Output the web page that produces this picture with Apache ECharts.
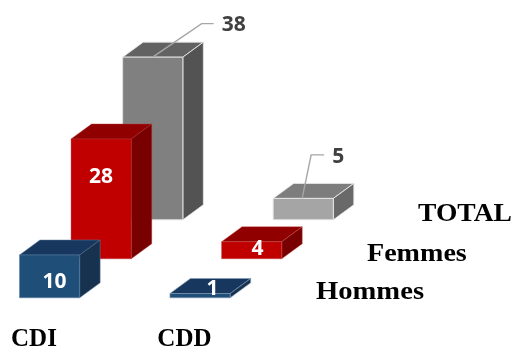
<!DOCTYPE html>
<html>
<head>
<meta charset="utf-8">
<style>html,body{margin:0;padding:0;background:#fff}#c{width:513px;height:349px}</style>
<script src="https://cdn.jsdelivr.net/npm/echarts@6/dist/echarts.min.js"></script>
</head>
<body>
<div id="c"></div>
<script>
const categories = ['CDI', 'CDD'];
const depthNames = ['Hommes', 'Femmes', 'TOTAL'];
const hommes = [10, 1];
const femmes = [28, 4];
const total = [38, 5];

const chart = echarts.init(document.getElementById('c'), null, {renderer: 'canvas'});

const DEPTH = {dx: 51.6, dy: -39};   // shift between rows
const SIDE = {dx: 20.5, dy: -15};    // 3D extrusion
const FRONT_SHIFT = 15.6;            // bar centre relative to the category label
const looks = [
  [{front: '#1f4e79', top: '#17375e', side: '#17324f', edge: '#5f83a6', lw: 0.5}, {front: '#1f4e79', top: '#17375e', side: '#17324f', edge: '#7f9ab5', lw: 0.6}],
  [{front: '#c00000', top: '#900000', side: '#780000', edge: '#b84040', lw: 0.4}, {front: '#c00000', top: '#900000', side: '#780000', edge: '#c85050', lw: 0.4}],
  [{front: '#808080', top: '#626262', side: '#535353', edge: '#e4e4e4', lw: 0.9}, {front: '#a5a5a5', top: '#7d7d7d', side: '#696969', edge: '#e8e8e8', lw: 0.9}]
];
// Label offset from the top-left of the front face, per row and category
const labelAt = [
  [[35, 27], [42.5, -5]],
  [[30, 38.5], [36, 7.5]],
  [null, null]
];
// Outside labels with leader lines (offset from front-top-left)
const leaders = [
  [[30, 0], [79, -33.5], [91, -33.5]],
  [[29, 0], [38, -43.5], [51, -43.5]]
];
const leaderText = [[99, -32.5], [59, -41]];

function renderBar(row) {
  return function (params, api) {
    const cat = api.value(0), val = api.value(1);
    const base = api.coord([cat, 0]), head = api.coord([cat, val]);
    const w = api.size([1, 0])[0] * 0.4;
    const x0 = base[0] + FRONT_SHIFT + row * DEPTH.dx - w / 2;
    const x1 = x0 + w;
    const yb = base[1] + row * DEPTH.dy;
    const yt = head[1] + row * DEPTH.dy;
    const s = SIDE, c = looks[row][cat];
    const kids = [];
    const poly = (pts, fill) => kids.push({
      type: 'polygon', shape: {points: pts},
      style: {fill: fill, stroke: c.edge, lineWidth: c.lw, lineJoin: 'round'}
    });
    poly([[x0, yt], [x0 + s.dx, yt + s.dy], [x1 + s.dx, yt + s.dy], [x1, yt]], c.top);
    poly([[x1, yt], [x1 + s.dx, yt + s.dy], [x1 + s.dx, yb + s.dy], [x1, yb]], c.side);
    poly([[x0, yt], [x1, yt], [x1, yb], [x0, yb]], c.front);
    const text = String(val);
    const font = 'bold 21px "Open Sans", sans-serif';
    if (row === 2) {
      kids.push({
        type: 'polyline',
        shape: {points: leaders[cat].map(p => [x0 + p[0], yt + p[1]])},
        style: {fill: null, stroke: '#a6a6a6', lineWidth: 1.4}
      });
      kids.push({
        type: 'text',
        style: {x: x0 + leaderText[cat][0], y: yt + leaderText[cat][1], text, font,
                fill: '#404040', align: 'left', verticalAlign: 'middle'}
      });
    } else {
      const l = labelAt[row][cat];
      kids.push({
        type: 'text',
        style: {x: x0 + l[0], y: yt + l[1], text, font,
                fill: '#ffffff', align: 'center', verticalAlign: 'middle'}
      });
    }
    return {type: 'group', children: kids};
  };
}

function barSeries(row, values) {
  return {
    type: 'custom',
    name: depthNames[row],
    coordinateSystem: 'cartesian2d',
    clip: false,
    silent: true,
    z: 5 - row,
    encode: {x: 0, y: 1},
    data: values.map((v, i) => [i, v]),
    renderItem: renderBar(row)
  };
}

const depthLabelPos = [[316, 292], [367, 254], [418, 214]];
const depthLabelStretch = [1.1, 1.08, 1.06];
chart.setOption({
  animation: false,
  backgroundColor: '#ffffff',
  grid: {left: -41.3, width: 301, top: 41, height: 256.8, outerBoundsMode: 'none'},
  xAxis: {
    type: 'category',
    data: categories,
    axisLine: {show: false},
    axisTick: {show: false},
    axisLabel: {
      margin: 29, interval: 0, color: '#000000',
      fontFamily: '"Liberation Serif", serif', fontWeight: 'bold', fontSize: 25
    }
  },
  yAxis: {type: 'value', min: 0, max: 60, show: false, splitLine: {show: false}},
  series: [barSeries(2, total), barSeries(1, femmes), barSeries(0, hommes)],
  graphic: depthNames.map((n, i) => ({
    type: 'text',
    x: depthLabelPos[i][0], y: depthLabelPos[i][1],
    scaleX: depthLabelStretch[i],
    style: {text: n, font: 'bold 26px "Liberation Serif", serif', fill: '#000000',
            align: 'left', verticalAlign: 'middle'}
  }))
});
</script>
</body>
</html>
